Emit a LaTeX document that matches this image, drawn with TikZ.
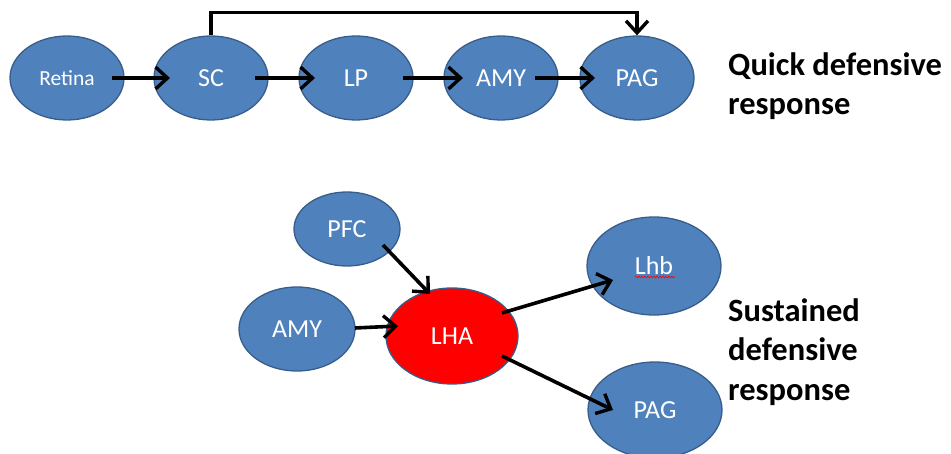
\documentclass[tikz,border=0pt]{standalone}
\usepackage{fontspec}
\setmainfont{Carlito}
\usetikzlibrary{shapes.geometric,arrows.meta,calc,decorations.pathmorphing}
\definecolor{nblue}{HTML}{4F81BD}
\definecolor{nbord}{HTML}{385D8A}
\definecolor{nred}{HTML}{FF0000}
\tikzset{
  region/.style={ellipse, draw=nbord, line width=1.3pt, fill=nblue, text=white,
    inner sep=0pt, font=\fontsize{26}{30}\selectfont},
  arr/.style={line width=3.6pt, black,
    -{Straight Barb[length=12pt,width=22pt,line width=3.4pt]}},
  label/.style={anchor=base west, inner sep=0pt, align=left,
    font=\fontsize{32.5}{39.5}\selectfont\bfseries}
}
\begin{document}
\begin{tikzpicture}[x=1pt,y=-1pt]
\useasboundingbox (0,0) rectangle (951,454);
% top row
\node[region, minimum width=114pt, minimum height=84pt, font=\fontsize{21.5}{25}\selectfont] (ret) at (67,78) {Retina};
\node[region, minimum width=114pt, minimum height=84pt] (sc) at (211,78) {SC};
\node[region, minimum width=114pt, minimum height=84pt] (lp) at (356,78) {LP};
\node[region, minimum width=114pt, minimum height=84pt] (amy) at (501,78) {AMY};
\node[region, minimum width=114pt, minimum height=84pt] (pag) at (637,78) {PAG};
\draw[arr] ($(ret.center)+(45,0)$) -- ($(sc.center)+(-41,0)$);
\draw[arr] ($(sc.center)+(44,0)$) -- ($(lp.center)+(-41,0)$);
\draw[arr] ($(lp.center)+(47,0)$) -- ($(amy.center)+(-38,0)$);
\draw[arr] ($(amy.center)+(34,0)$) -- ($(pag.center)+(-42,0)$);
\draw[arr] (sc.north) -- ++(0,-23) -| (pag.north);
\node[label] (quick) at (728,115) {Quick defensive\\response};
% bottom group
\node[region, minimum width=106pt, minimum height=74pt] (pfc) at (347,229) {PFC};
\node[region, minimum width=116pt, minimum height=84pt] (amyb) at (297,329) {AMY};
\node[region, fill=nred, minimum width=132pt, minimum height=96pt] (lha) at (452,336) {LHA};
\node[region, minimum width=134pt, minimum height=98pt] (lhb) at (654,266) {Lhb};
\node[region, minimum width=134pt, minimum height=96pt] (pagb) at (655,410) {PAG};
\draw[red, line width=0.6pt, decorate, decoration={snake, amplitude=0.9pt, segment length=3pt}]
  ($(lhb.center)+(-19,11)$) -- ($(lhb.center)+(21,11)$);
\draw[arr] ($(pfc.center)+(36,16)$) -- ($(lha.center)+(-22,-42)$);
\draw[arr] ($(amyb.center)+(58,-1)$) -- ($(lha.center)+(-54,-10)$);
\draw[arr] ($(lha.center)+(50,-23)$) -- ($(lhb.center)+(-41,14)$);
\draw[arr] ($(lha.center)+(50,20)$) -- ($(pagb.center)+(-42,0)$);
\node[label] (sust) at (728,400) {Sustained\\defensive\\response};
\end{tikzpicture}
\end{document}
